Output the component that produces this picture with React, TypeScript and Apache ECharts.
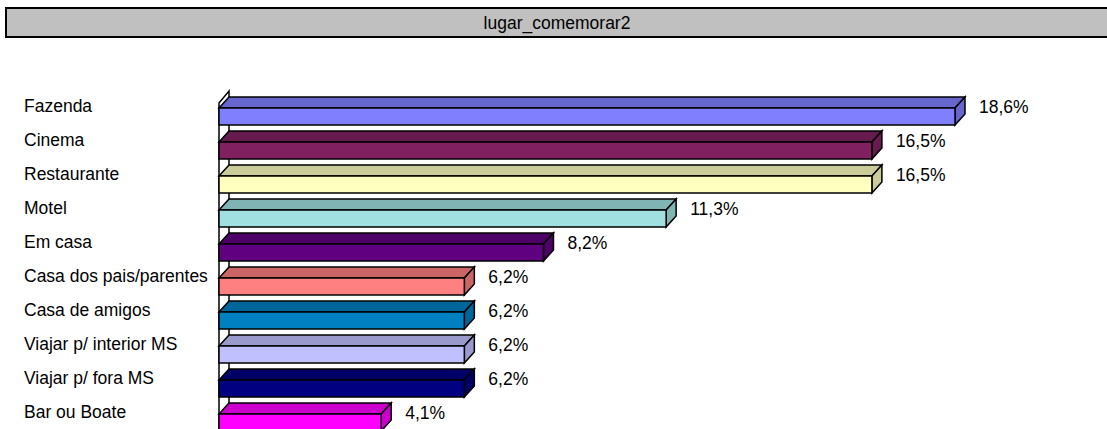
import React, { useEffect, useRef } from "react";
import * as echarts from "echarts";

const titleText = "lugar_comemorar2";
const categories = [
  "Fazenda",
  "Cinema",
  "Restaurante",
  "Motel",
  "Em casa",
  "Casa dos pais/parentes",
  "Casa de amigos",
  "Viajar p/ interior MS",
  "Viajar p/ fora MS",
  "Bar ou Boate",
];
const values = [18.6, 16.5, 16.5, 11.3, 8.2, 6.2, 6.2, 6.2, 6.2, 4.1];
const frontColors = [
  "#8080FF",
  "#802060",
  "#FFFFC0",
  "#A0E0E0",
  "#600080",
  "#FF8080",
  "#0080C0",
  "#C0C0FF",
  "#000080",
  "#FF00FF",
];
const topColors = [
  "#6666CC",
  "#661A4D",
  "#CCCC9A",
  "#80B3B3",
  "#4D0066",
  "#CC6666",
  "#00669A",
  "#9A9ACC",
  "#000066",
  "#CC00CC",
];

const FONT = "'Liberation Sans', Arial, sans-serif";
const FS = 17.5;

export default function App() {
  const ref = useRef<HTMLDivElement>(null);
  useEffect(() => {
    if (!ref.current) return;
    const chart = echarts.init(ref.current, undefined, { renderer: "svg" });
    const dx = 10;
    const dy = 11;
    const fTop = 2;
    const fBot = 19;
    const lw = 1.5;
    chart.setOption({
      animation: false,
      backgroundColor: "#FFFFFF",
      grid: { left: 219, right: 96.6, top: 89, bottom: 0, containLabel: false },
      xAxis: {
        type: "value",
        min: 0,
        max: 20,
        show: false,
      },
      yAxis: {
        type: "category",
        data: categories,
        inverse: true,
        axisLine: { show: false },
        axisTick: { show: false },
        splitLine: { show: false },
        axisLabel: {
          align: "left",
          margin: 195,
          color: "#000",
          fontSize: FS,
          fontFamily: FONT,
        },
      },
      graphic: [
        {
          type: "rect",
          z: 0,
          shape: { x: 6, y: 8, width: 1110, height: 29 },
          style: { fill: "#C0C0C0", stroke: "#000", lineWidth: 2 },
        },
        {
          type: "text",
          z: 1,
          style: {
            text: titleText,
            x: 557,
            y: 23,
            align: "center",
            verticalAlign: "middle",
            fontSize: FS,
            fontFamily: FONT,
            fill: "#000",
          },
        },
        {
          type: "polygon",
          z: 0,
          shape: {
            points: [
              [219, 103],
              [229, 91],
              [229, 440],
              [219, 440],
            ],
          },
          style: { fill: "#FFFFFF", stroke: "#000", lineWidth: lw },
        },
      ],
      series: [
        {
          type: "custom",
          z: 5,
          data: values.map((v, i) => [v, i]),
          encode: { x: 0, y: 1 },
          renderItem: (params: any, api: any) => {
            const v = api.value(0);
            const idx = api.value(1);
            const p = api.coord([v, idx]);
            const p0 = api.coord([0, idx]);
            const x0 = p0[0];
            const x1 = p[0];
            const c = p[1];
            const yt = c + fTop;
            const yb = c + fBot;
            const fc = frontColors[idx];
            const tc = topColors[idx];
            const label = v.toFixed(1).replace(".", ",") + "%";
            return {
              type: "group",
              children: [
                {
                  type: "polygon",
                  shape: {
                    points: [
                      [x0, yt],
                      [x0 + dx, yt - dy],
                      [x1 + dx, yt - dy],
                      [x1, yt],
                    ],
                  },
                  style: { fill: tc, stroke: "#000", lineWidth: lw },
                },
                {
                  type: "polygon",
                  shape: {
                    points: [
                      [x1, yt],
                      [x1 + dx, yt - dy],
                      [x1 + dx, yb - dy],
                      [x1, yb],
                    ],
                  },
                  style: { fill: tc, stroke: "#000", lineWidth: lw },
                },
                {
                  type: "rect",
                  shape: { x: x0, y: yt, width: x1 - x0, height: yb - yt },
                  style: { fill: fc, stroke: "#000", lineWidth: lw },
                },
                {
                  type: "text",
                  style: {
                    text: label,
                    x: x1 + dx + 14,
                    y: c + 1,
                    align: "left",
                    verticalAlign: "middle",
                    fontSize: FS,
                    fontFamily: FONT,
                    fill: "#000",
                  },
                },
              ],
            };
          },
        },
      ],
    });
    return () => chart.dispose();
  }, []);
  return (
    <div
      ref={ref}
      style={{
        position: "fixed",
        left: 0,
        top: 0,
        width: 1107,
        height: 429,
        background: "#fff",
      }}
    />
  );
}
